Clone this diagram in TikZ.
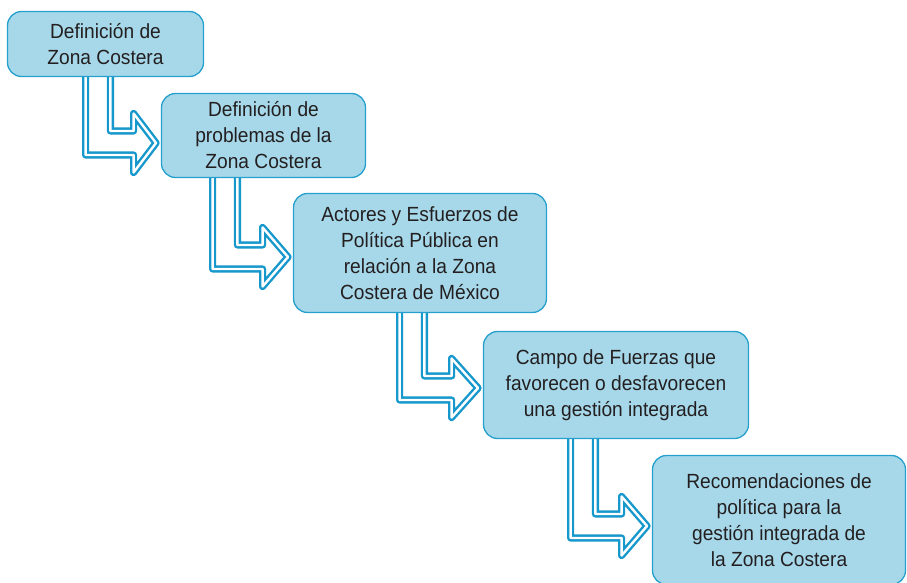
\documentclass[tikz,border=0pt]{standalone}
\usepackage{fontspec}
\setmainfont{Liberation Sans}[FakeStretch=0.935]
\usetikzlibrary{calc,backgrounds}
\definecolor{boxfill}{RGB}{166,216,234}
\definecolor{boxline}{RGB}{38,160,204}
\definecolor{arrowblue}{RGB}{22,152,204}
\definecolor{txt}{RGB}{35,31,32}
\tikzset{
  stage/.style={draw=boxline, fill=boxfill, line width=1.3pt, rounded corners=14pt,
    inner sep=0pt, align=center, text=txt, font=\fontsize{20.5}{26}\selectfont},
  bentarrow/.style={draw=arrowblue, line width=2.4pt, double=white, double distance=2.4pt,
    line join=round, fill=white},
}
\newcommand\stagearrow[5]{%
  \path[bentarrow] let \p1=(#1.south), \p2=(#2.west) in
    ({#3pt+3.6pt},{\y1+4pt}) -- ({#3pt+3.6pt},{-#4pt-12pt})
    -- ({#5pt+3.6pt},{-#4pt-12pt}) -- ({#5pt+3.6pt},{-#4pt-29.5pt})
    -- ({\x2-4.8pt},{-#4pt}) -- ({#5pt+3.6pt},{-#4pt+29.5pt})
    -- ({#5pt+3.6pt},{-#4pt+12pt}) -- ({#3pt+28.4pt},{-#4pt+12pt})
    -- ({#3pt+28.4pt},{\y1+4pt});
}
\begin{document}
\begin{tikzpicture}[x=1pt,y=1pt]
\clip (0,0) rectangle (907,-583);
\node[stage, minimum width=196pt, minimum height=65pt] (b1) at (105.5,-44)
  {Definición de\\Zona Costera};
\node[stage, minimum width=204pt, minimum height=84pt] (b2) at (263.5,-135.5)
  {Definición de\\problemas de la\\Zona Costera};
\node[stage, minimum width=253pt, minimum height=119pt] (b3) at (420,-253)
  {Actores y Esfuerzos de\\Política Pública en\\relación a la Zona\\Costera de México};
\node[stage, minimum width=265pt, minimum height=107pt] (b4) at (616,-385)
  {Campo de Fuerzas que\\favorecen o desfavorecen\\una gestión integrada};
\node[stage, minimum width=253pt, minimum height=129pt] (b5) at (779,-520)
  {Recomendaciones de\\política para la\\gestión integrada de\\la Zona Costera};
\begin{pgfonlayer}{background}
\stagearrow{b1}{b2}{82}{143}{130}
\stagearrow{b2}{b3}{209}{257}{259}
\stagearrow{b3}{b4}{396}{388}{448}
\stagearrow{b4}{b5}{567}{526}{618}
\end{pgfonlayer}
\end{tikzpicture}
\end{document}
